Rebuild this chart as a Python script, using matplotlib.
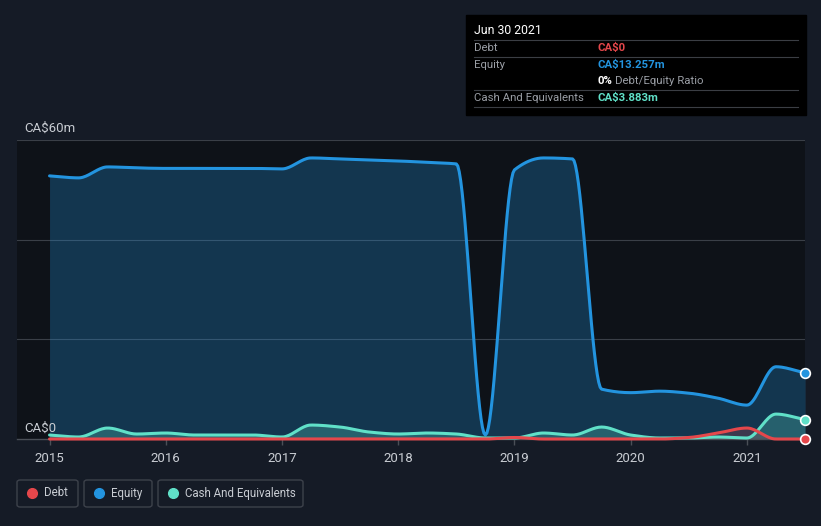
import numpy as np
import matplotlib
matplotlib.use('Agg')
import matplotlib.pyplot as plt
from matplotlib.patches import FancyBboxPatch, Rectangle
from matplotlib.lines import Line2D

plt.rcParams['font.family'] = ['Roboto', 'DejaVu Sans']

# quarterly dates (decimal years) and values in CA$ millions
dates = [2015.0, 2015.25, 2015.5, 2015.75, 2016.0, 2016.25, 2016.5, 2016.75,
         2017.0, 2017.25, 2017.5, 2017.75, 2018.0, 2018.25, 2018.5, 2018.75,
         2019.0, 2019.25, 2019.5, 2019.75, 2020.0, 2020.25, 2020.5, 2020.75,
         2021.0, 2021.25, 2021.5]
equity = [52.8, 52.4, 54.6, 54.4, 54.3, 54.3, 54.3, 54.3,
          54.2, 56.4, 56.2, 56.0, 55.8, 55.5, 55.2, 0.8,
          54.0, 56.4, 56.2, 10.0, 9.3, 9.6, 9.2, 8.2,
          6.8, 14.5, 13.257]
cash = [0.8, 0.4, 2.2, 1.0, 1.2, 0.8, 0.8, 0.8,
        0.4, 2.8, 2.4, 1.4, 1.0, 1.2, 1.0, 0.2,
        0.2, 1.2, 0.8, 2.4, 0.8, 0.2, 0.2, 0.4,
        0.2, 5.0, 3.883]
debt = [0, 0, 0, 0, 0, 0, 0, 0,
        0, 0, 0, 0, 0, 0, 0, 0,
        0.3, 0, 0, 0, 0, 0, 0.3, 1.2,
        2.2, 0, 0]
year_ticks = [2015, 2016, 2017, 2018, 2019, 2020, 2021]

BG = '#151b26'
PLOT_BG = '#0e1218'
DEBT_C = '#e5474b'
EQ_C = '#2394df'
CASH_C = '#60e0c8'
TXT = '#c9cdd3'


def smooth(x, y, n=20):
    # monotone cubic (Fritsch-Carlson) for drawing
    x = np.asarray(x, float); y = np.asarray(y, float)
    h = np.diff(x); d = np.diff(y) / h
    m = np.zeros_like(y)
    m[0], m[-1] = d[0], d[-1]
    for i in range(1, len(y) - 1):
        if d[i - 1] * d[i] <= 0:
            m[i] = 0
        else:
            w1 = 2 * h[i] + h[i - 1]; w2 = h[i] + 2 * h[i - 1]
            m[i] = (w1 + w2) / (w1 / d[i - 1] + w2 / d[i])
    xs, ys = [], []
    for i in range(len(x) - 1):
        t = np.linspace(0, 1, n, endpoint=False)
        h00 = 2*t**3 - 3*t**2 + 1; h10 = t**3 - 2*t**2 + t
        h01 = -2*t**3 + 3*t**2; h11 = t**3 - t**2
        xs.append(x[i] + t * h[i])
        ys.append(h00*y[i] + h10*h[i]*m[i] + h01*y[i+1] + h11*h[i]*m[i+1])
    xs.append([x[-1]]); ys.append([y[-1]])
    return np.concatenate(xs), np.concatenate(ys)


fig = plt.figure(figsize=(8.21, 5.26), dpi=100, facecolor=BG)
W, H = 821, 526
ax = fig.add_axes([17 / W, (H - 439) / H, (805 - 17) / W, (439 - 140) / H])
ax.set_facecolor(PLOT_BG)
ax.set_xlim(2014.72, 2021.5)
ax.set_ylim(0, 60)

for v in [20, 40, 60]:
    ax.axhline(v, color='#3a3f47', lw=0.8, zorder=1)

for vals, col, a in [(equity, EQ_C, 0.28), (cash, CASH_C, 0.25), (debt, DEBT_C, 0.2)]:
    xs, ys = smooth(dates, vals)
    ax.fill_between(xs, 0, ys, color=col, alpha=a, lw=0, zorder=2)
    ax.plot(xs, ys, color=col, lw=2.2, zorder=4, clip_on=False, solid_capstyle='round')
    ax.plot(dates[-1], vals[-1], 'o', ms=7, color=col, mec='white', mew=1.2,
            zorder=6, clip_on=False)

for s in ax.spines.values():
    s.set_visible(False)
ax.axhline(0, color='#4a4f57', lw=1, zorder=3, clip_on=False)
ax.set_yticks([])
ax.set_xticks(year_ticks)
ax.set_xticklabels([str(y) for y in year_ticks])
ax.tick_params(axis='x', colors='#4a4f57', length=4, width=1, labelcolor=TXT,
               labelsize=9.5, pad=5)

ax.text(24 / W, (H - 128) / H, 'CA$60m', transform=fig.transFigure, color=TXT,
        fontsize=9.5, va='center', ha='left')
ax.text(24 / W, (H - 428) / H, 'CA$0', transform=fig.transFigure, color=TXT,
        fontsize=9.5, va='center', ha='left')

# tooltip box
fig.patches.append(Rectangle((466 / W, (H - 115) / H), 340 / W, 100 / H,
                             transform=fig.transFigure, color='black', zorder=10))
for yy in [40, 57, 90, 107]:
    fig.add_artist(Line2D([474 / W, 798 / W], [(H - yy) / H] * 2, color='#3b3e44',
                          lw=0.8, zorder=11))
fig.text(474 / W, (H - 30) / H, 'Jun 30 2021', color='white', fontsize=8.8,
         va='center', zorder=12)
rows = [(48, 'Debt', 'CA$0', DEBT_C),
        (65, 'Equity', 'CA$13.257m', EQ_C),
        (98, 'Cash And Equivalents', 'CA$3.883m', CASH_C)]
for yy, lab, val, col in rows:
    fig.text(474 / W, (H - yy) / H, lab, color='#9a9ea5', fontsize=8.2, va='center', zorder=12)
    fig.text(597 / W, (H - yy) / H, val, color=col, fontsize=8.2, va='center',
             fontweight='bold', zorder=12)
fig.text(597 / W, (H - 81) / H, '0%', color='white', fontsize=8.2, va='center',
         fontweight='bold', zorder=12)
fig.text(615 / W, (H - 81) / H, 'Debt/Equity Ratio', color='#9a9ea5', fontsize=8.2,
         va='center', zorder=12)

# legend
legend = [(17, 78, 'Debt', DEBT_C), (84, 152, 'Equity', EQ_C),
          (158, 303, 'Cash And Equivalents', CASH_C)]
for x0, x1, lab, col in legend:
    fig.patches.append(FancyBboxPatch((x0 / W, (H - 507) / H), (x1 - x0) / W, 27 / H,
                                      boxstyle='round,pad=0,rounding_size=0.004',
                                      transform=fig.transFigure, fc='none',
                                      ec='#3d424b', lw=1))
    fig.add_artist(Line2D([(x0 + 15) / W], [(H - 493) / H], marker='o', ms=7,
                          color=col, lw=0))
    fig.text((x0 + 27) / W, (H - 493) / H, lab, color=TXT, fontsize=8.3, va='center')

fig.savefig('out.png', dpi=100, facecolor=BG)
